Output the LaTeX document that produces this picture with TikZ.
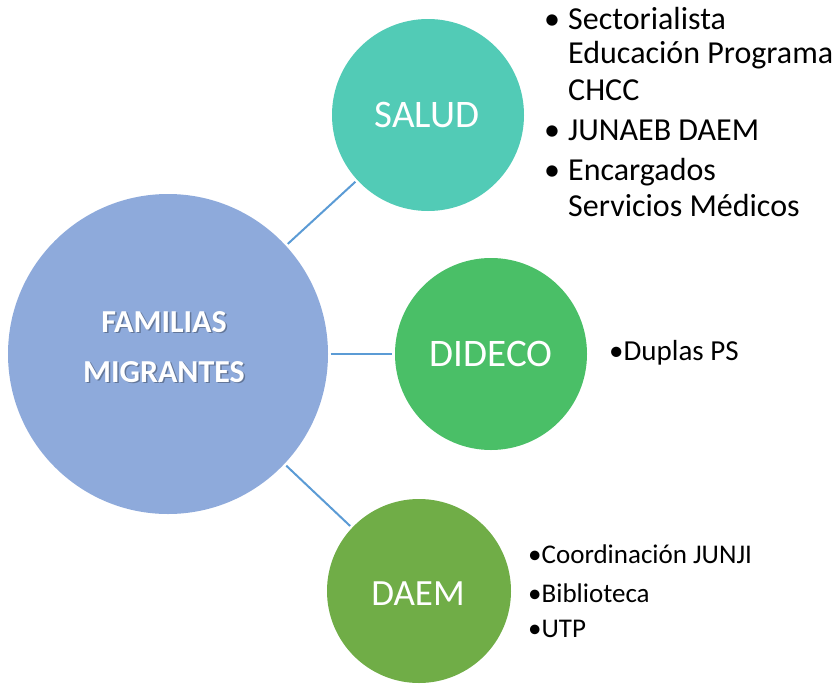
\documentclass[tikz,border=0pt]{standalone}
\usepackage{fontspec}
\setmainfont{Carlito}
\definecolor{famblue}{RGB}{142,170,219}
\definecolor{saludteal}{RGB}{82,203,182}
\definecolor{didecogreen}{RGB}{74,191,103}
\definecolor{daemgreen}{RGB}{112,173,71}
\definecolor{linkblue}{RGB}{91,155,213}
\begin{document}
\begin{tikzpicture}[x=1pt,y=-1pt,
  bubble/.style={circle, inner sep=0pt, draw=none},
  blabel/.style={anchor=base, inner sep=0pt, text=white},
  famtext/.style={anchor=base, inner sep=0pt, text=white, font=\bfseries\fontsize{32}{38}\selectfont},
  famshadow/.style={anchor=base, inner sep=0pt, text=black, opacity=0.3, font=\bfseries\fontsize{32}{38}\selectfont},
  link/.style={draw=linkblue, line width=2pt, shorten >=2.5pt, shorten <=2.5pt},
  bigitem/.style={anchor=base west, inner sep=0pt, font=\fontsize{32}{38}\selectfont},
  smallitem/.style={anchor=base west, inner sep=0pt, font=\fontsize{27}{32}\selectfont}
]
\useasboundingbox (0,0) rectangle (838,683);
\clip (0,0) rectangle (838,683);

% circles
\node[bubble, fill=famblue, minimum size=320pt] (fam) at (168,354) {};
\node[bubble, fill=saludteal, minimum size=192pt] (salud) at (428,115) {};
\node[bubble, fill=didecogreen, minimum size=192pt] (dideco) at (491,354) {};
\node[bubble, fill=daemgreen, minimum size=184pt] (daem) at (419,591) {};

% connectors
\draw[link] (fam) -- (salud);
\draw[link] (fam) -- (dideco);
\draw[link] (fam) -- (daem);

% central text
\node[famshadow] (fs1) at (165.5,333.5) {FAMILIAS};
\node[famshadow] (fs2) at (165.5,383.5) {MIGRANTES};
\node[famtext] (f1) at (164,332) {FAMILIAS};
\node[famtext] (f2) at (164,382) {MIGRANTES};

% circle labels
\node[blabel, font=\fontsize{39}{46}\selectfont] (tsalud) at (427,127) {SALUD};
\node[blabel, font=\fontsize{39}{46}\selectfont] (tdideco) at (491,366) {DIDECO};
\node[blabel, font=\fontsize{37}{44}\selectfont] (tdaem) at (418,605) {DAEM};

% SALUD list
\node[bigitem] (b1) at (544,29) {\textbullet};
\node[bigitem] (s1) at (568,29) {Sectorialista};
\node[bigitem] (s2) at (568,63) {Educación Programa};
\node[bigitem] (s3) at (568,100) {CHCC};
\node[bigitem] (b2) at (544,140) {\textbullet};
\node[bigitem] (s4) at (568,140) {JUNAEB DAEM};
\node[bigitem] (b3) at (544,180) {\textbullet};
\node[bigitem] (s5) at (568,180) {Encargados};
\node[bigitem] (s6) at (568,216) {Servicios Médicos};

% DIDECO list
\node[smallitem, font=\fontsize{29}{34}\selectfont] (d1) at (609,360) {\textbullet Duplas PS};

% DAEM list
\node[smallitem] (a1) at (528,563) {\textbullet Coordinación JUNJI};
\node[smallitem] (a2) at (528,602) {\textbullet Biblioteca};
\node[smallitem] (a3) at (528,637) {\textbullet UTP};
\end{tikzpicture}
\end{document}
